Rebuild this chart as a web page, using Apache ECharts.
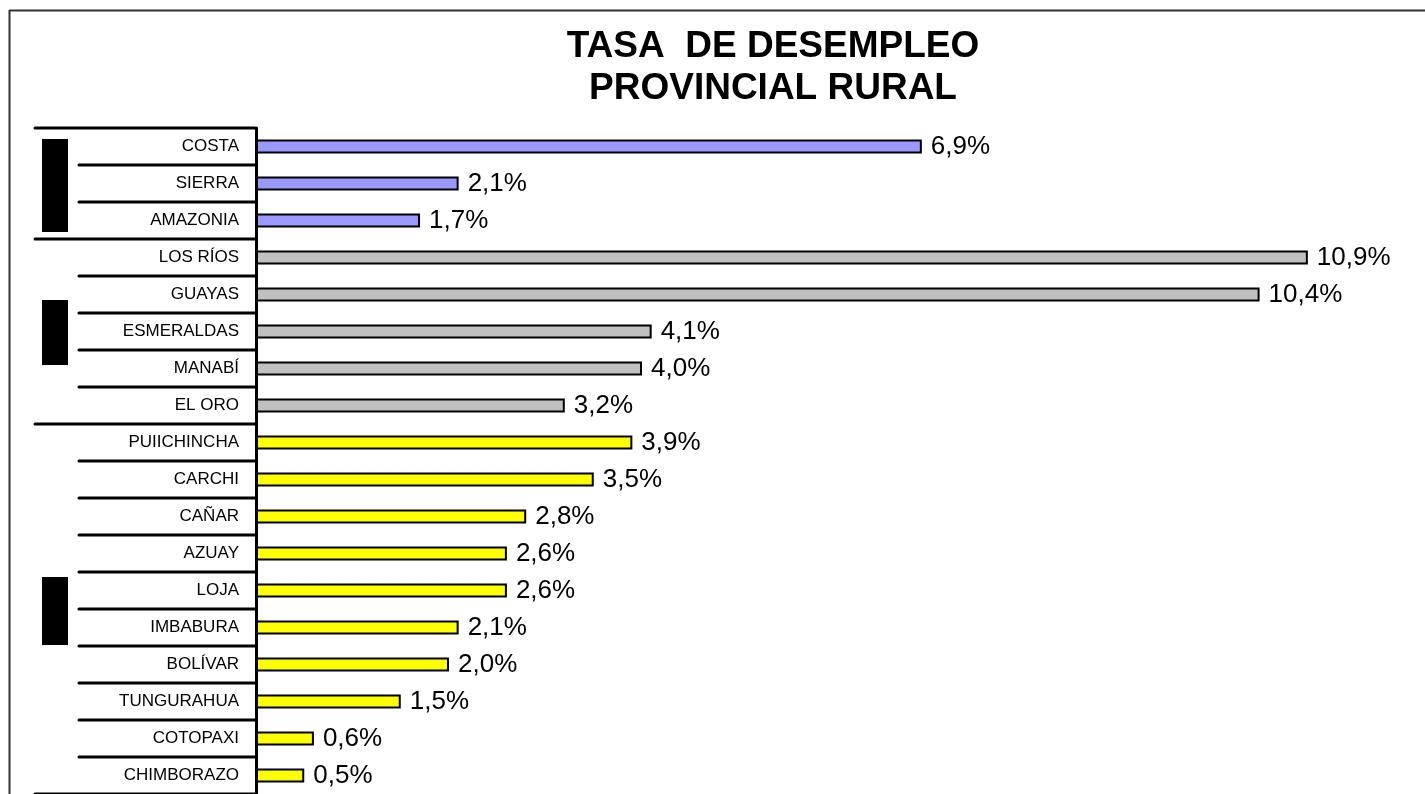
<!DOCTYPE html>
<html>
<head>
<meta charset="utf-8">
<script src="https://cdn.jsdelivr.net/npm/echarts@6/dist/echarts.min.js"></script>
<style>
  html, body { margin: 0; padding: 0; background: #fff; }
  #chart { width: 1425px; height: 794px; }
</style>
</head>
<body>
<div id="chart"></div>
<script>
// Rural unemployment rate by region and province (%)
const categories = [
  'COSTA', 'SIERRA', 'AMAZONIA',
  'LOS RÍOS', 'GUAYAS', 'ESMERALDAS', 'MANABÍ', 'EL ORO',
  'PUIICHINCHA', 'CARCHI', 'CAÑAR', 'AZUAY', 'LOJA', 'IMBABURA',
  'BOLÍVAR', 'TUNGURAHUA', 'COTOPAXI', 'CHIMBORAZO'
];
const values = [
  6.9, 2.1, 1.7,
  10.9, 10.4, 4.1, 4.0, 3.2,
  3.9, 3.5, 2.8, 2.6, 2.6, 2.1, 2.0, 1.5, 0.6, 0.5
];
// group of each row: 0 = regions, 1 = coastal provinces, 2 = highland provinces
const groups = [0, 0, 0, 1, 1, 1, 1, 1, 2, 2, 2, 2, 2, 2, 2, 2, 2, 2];
const groupColors = ['#9999FF', '#C0C0C0', '#FFFF00'];

const chart = echarts.init(document.getElementById('chart'), null, { renderer: 'canvas' });

const fmt = v => v.toFixed(1).replace('.', ',') + '%';

chart.setOption({
  animation: false,
  backgroundColor: '#ffffff',
  title: {
    text: 'TASA  DE DESEMPLEO\nPROVINCIAL RURAL',
    left: 768,
    top: 21,
    textAlign: 'center',
    textStyle: {
      fontFamily: 'Liberation Sans, Arial, sans-serif',
      fontWeight: 'bold',
      fontSize: 37,
      lineHeight: 42,
      color: '#000'
    }
  },
  grid: { left: 256, right: 11, top: 128, bottom: 0, containLabel: false },
  xAxis: {
    type: 'value',
    min: 0,
    max: 12,
    show: false
  },
  yAxis: {
    type: 'category',
    data: categories,
    inverse: true,
    axisLine: { show: true, lineStyle: { color: '#000', width: 3 } },
    axisTick: { show: false },
    splitLine: { show: false },
    axisLabel: {
      margin: 17,
      color: '#000',
      fontFamily: 'Liberation Sans, Arial, sans-serif',
      fontSize: 17
    }
  },
  series: [{
    type: 'bar',
    barWidth: 14,
    data: values.map((v, i) => ({
      value: v,
      itemStyle: { color: groupColors[groups[i]] }
    })),
    itemStyle: { borderColor: '#000', borderWidth: 2 },
    label: {
      show: true,
      position: 'right',
      distance: 9,
      formatter: p => fmt(p.value),
      color: '#000',
      fontFamily: 'Liberation Sans, Arial, sans-serif',
      fontSize: 26
    }
  }]
});

// Row dividers left of the axis: long at group edges, short between rows
const axisX = chart.convertToPixel({ xAxisIndex: 0 }, 0) - 1;
const c0 = chart.convertToPixel({ yAxisIndex: 0 }, 0);
const c1 = chart.convertToPixel({ yAxisIndex: 0 }, 1);
const rowH = c1 - c0;
const elements = [];
for (let i = 0; i <= categories.length; i++) {
  const y = c0 - rowH / 2 + i * rowH;
  const isGroupEdge = i === 0 || i === categories.length || groups[i] !== groups[i - 1];
  elements.push({
    type: 'line',
    shape: { x1: isGroupEdge ? 35 : 79, y1: y, x2: axisX, y2: y },
    style: { stroke: '#000', lineWidth: 3, lineCap: 'round' },
    z: 10
  });
}

// Group marker blocks beside the row labels
const blocks = [[139, 232], [300, 365], [577, 645]];
blocks.forEach(b => {
  elements.push({
    type: 'rect',
    shape: { x: 42, y: b[0], width: 26, height: b[1] - b[0] },
    style: { fill: '#000' },
    z: 10
  });
});

// Outer frame (left and top edges)
elements.push({
  type: 'line',
  shape: { x1: 9.5, y1: 10, x2: 9.5, y2: 794 },
  style: { stroke: '#333', lineWidth: 2 },
  z: 10
});
elements.push({
  type: 'line',
  shape: { x1: 9, y1: 10.5, x2: 1425, y2: 10.5 },
  style: { stroke: '#333', lineWidth: 2 },
  z: 10
});

chart.setOption({ graphic: { elements } });
</script>
</body>
</html>
